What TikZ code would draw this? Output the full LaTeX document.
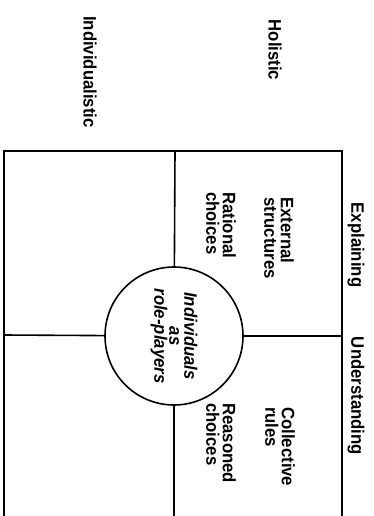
\documentclass[tikz,border=0pt]{standalone}
\usepackage{fontspec}
\setmainfont{Liberation Sans}
\newfontfamily\labfont[FakeStretch=0.93]{Liberation Sans}
\begin{document}
\begin{tikzpicture}[x=1pt,y=-1pt,
  frame/.style={line width=1.6pt},
  lbl/.style={rotate=-90,inner sep=0pt,font=\labfont\fontsize{18}{16.5}\selectfont\bfseries},
  blk/.style={lbl,align=left,anchor=west},
  hub/.style={circle,draw,line width=1.6pt,minimum size=138pt,inner sep=0pt,
    rotate=-90,align=center,font=\labfont\fontsize{18}{15}\selectfont\bfseries\itshape}]
\useasboundingbox (0,0) rectangle (374,516);
\coordinate (tl) at (4,151);
\coordinate (tr) at (342,151);
\coordinate (bl) at (4,516);
\coordinate (br) at (342,516);
\coordinate (tm) at (175,151);
\coordinate (bm) at (174,516);
\coordinate (ml) at (4,335);
\coordinate (mr) at (342,336);
\node[hub] (c) at (174,336) {Individuals\\as\\role-players};
\draw[frame] (bl) -- (tl) -- (tr) -- (br);
\draw[frame] (tm) -- (c);
\draw[frame] (c) -- (bm);
\draw[frame] (ml) -- (c);
\draw[frame] (c) -- (mr);
\node[lbl] (hol) at (275,50) {Holistic};
\node[lbl] (ind) at (90,72) {Individualistic};
\node[lbl] (exp) at (356,245) {Explaining};
\node[lbl] (und) at (356,396) {Understanding};
\node[blk] (ext) at (279,197) {External\\structures};
\node[blk] (rat) at (221,192) {Rational\\choices};
\node[blk] (col) at (280,407) {Collective\\rules};
\node[blk] (rea) at (221,403) {Reasoned\\choices};
\end{tikzpicture}
\end{document}
